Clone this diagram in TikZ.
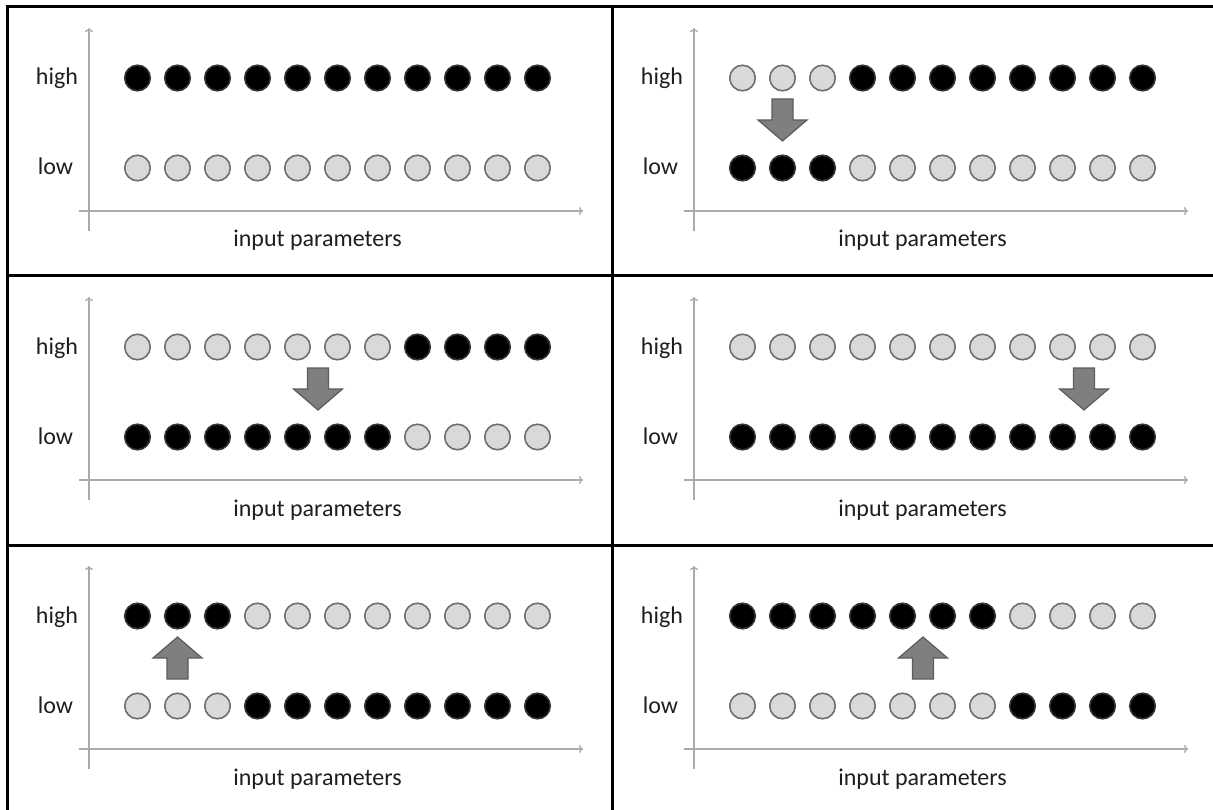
\documentclass[tikz,border=0pt]{standalone}
\usepackage{fontspec}
\setmainfont{Carlito}
\usetikzlibrary{arrows.meta}

\definecolor{dotfill}{HTML}{D9D9D9}
\definecolor{dotrim}{HTML}{6E6E6E}
\definecolor{axisgray}{HTML}{ABABAB}
\definecolor{arrfill}{HTML}{7F7F7F}
\definecolor{arrrim}{HTML}{5C5C5C}
\definecolor{txtgray}{HTML}{1E1E1E}

\begin{document}
\begin{tikzpicture}[x=1pt, y=-1pt,
        frame/.style={line width=3pt, black},
        axis/.style={-{To[length=4pt, width=8pt]}, line width=1.3pt, axisgray},
        dot0/.style={circle, draw=dotrim, fill=dotfill, line width=1.6pt,
            minimum size=25.5pt, inner sep=0pt},
        dot1/.style={circle, draw=black!80, fill=black, line width=1.6pt,
            minimum size=25.5pt, inner sep=0pt},
        lbl/.style={font=\fontsize{24}{28}\selectfont, text=txtgray, anchor=base},
        fatarr/.style={fill=arrfill, draw=arrrim, line width=1.2pt}
      ]
      \useasboundingbox (0,0) rectangle (1213,810);

      % Grid lines — no right and no bottom edge
      \draw[frame] (7,5.5) -- (7,810);
      \draw[frame] (612,7) -- (612,810);
      \draw[frame] (5.5,7)   -- (1213,7);
      \draw[frame] (5.5,276) -- (1213,276);
      \draw[frame] (5.5,545) -- (1213,545);

      % Panels: number/left/top/switched dots/inverted
      \foreach \p/\ox/\oy/\n/\inv in {1/7/7/0/0, 2/612/7/3/0, 3/7/276/7/0,
                                      4/612/276/11/0, 5/7/545/3/1, 6/612/545/7/1} {
        \begin{scope}[shift={(\ox,\oy)}]
          \coordinate (p\p yb) at (82,224);
          \coordinate (p\p yt) at (82,21);
          \coordinate (p\p xl) at (72,204);
          \coordinate (p\p xr) at (576,204);
          \draw[axis] (p\p yb) -- (p\p yt);
          \draw[axis] (p\p xl) -- (p\p xr);

          \node[lbl] (p\p high) at (50,78)    {high};
          \node[lbl] (p\p low)  at (48.5,168) {low};
          \node[lbl] (p\p inp)  at (310.5,240) {input parameters};

          % high row and low row
          \foreach \k in {0,...,10} {
            \pgfmathtruncatemacro{\hb}{(\k<\n)==\inv}
            \pgfmathtruncatemacro{\lb}{1-\hb}
            \node[dot\hb] (p\p h\k) at (130.5+40*\k,71)  {};
            \node[dot\lb] (p\p l\k) at (130.5+40*\k,161) {};
          }
        \end{scope}
      }

      % Down arrows
      \draw[fatarr, shift={(782.5,120)}]
        (-10.5,-21) -- (10.5,-21) -- (10.5,0) -- (24.5,0) -- (0,21) -- (-24.5,0) -- (-10.5,0) -- cycle;
      \draw[fatarr, shift={(318,389)}]
        (-10.5,-21) -- (10.5,-21) -- (10.5,0) -- (24.5,0) -- (0,21) -- (-24.5,0) -- (-10.5,0) -- cycle;
      \draw[fatarr, shift={(1084,389)}]
        (-10.5,-21) -- (10.5,-21) -- (10.5,0) -- (24.5,0) -- (0,21) -- (-24.5,0) -- (-10.5,0) -- cycle;

      % Up arrows
      \draw[fatarr, shift={(177.5,658)}, yscale=-1]
        (-10.5,-21) -- (10.5,-21) -- (10.5,0) -- (24.5,0) -- (0,21) -- (-24.5,0) -- (-10.5,0) -- cycle;
      \draw[fatarr, shift={(923,658)}, yscale=-1]
        (-10.5,-21) -- (10.5,-21) -- (10.5,0) -- (24.5,0) -- (0,21) -- (-24.5,0) -- (-10.5,0) -- cycle;
    \end{tikzpicture}
\end{document}
